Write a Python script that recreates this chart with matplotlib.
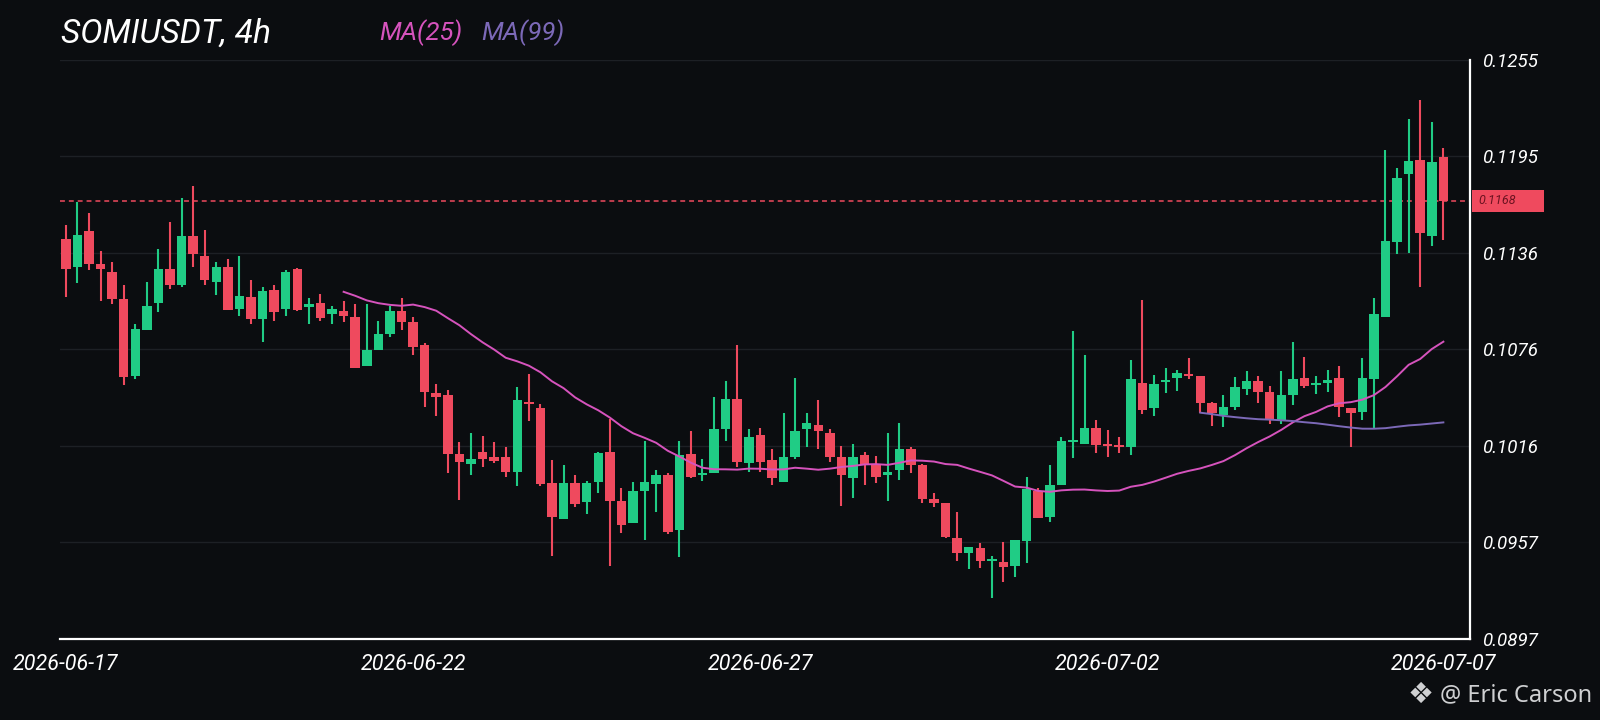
import matplotlib
matplotlib.use("Agg")
import matplotlib.pyplot as plt
import numpy as np
import pandas as pd
from matplotlib.transforms import blended_transform_factory
from matplotlib.patches import Rectangle

# ---------------- data (SOMIUSDT 4h candles) ----------------
opens = [0.11441, 0.11270, 0.11493, 0.11289, 0.11239, 0.11072, 0.10598, 0.10879, 0.11047, 0.11260,
         0.11159, 0.11460, 0.11338, 0.11179, 0.11272, 0.11009, 0.11083, 0.10949, 0.11128, 0.11009,
         0.11258, 0.11021, 0.11049, 0.10979, 0.11000, 0.10959, 0.10656, 0.10757, 0.10858, 0.11000,
         0.10928, 0.10788, 0.10489, 0.10479, 0.10114, 0.10054, 0.10126, 0.10095, 0.10095, 0.10004,
         0.10437, 0.10396, 0.09933, 0.09714, 0.09933, 0.09815, 0.09942, 0.10124, 0.09823, 0.09685,
         0.09885, 0.09926, 0.09986, 0.09644, 0.10112, 0.09986, 0.09998, 0.10267, 0.10454, 0.10056,
         0.10233, 0.10075, 0.09942, 0.10093, 0.10267, 0.10295, 0.10246, 0.10093, 0.09964, 0.10106,
         0.10050, 0.09984, 0.10015, 0.10145, 0.10046, 0.09834, 0.09809, 0.09593, 0.09504, 0.09531,
         0.09454, 0.09448, 0.09423, 0.09576, 0.09885, 0.09722, 0.09922, 0.10186, 0.10176, 0.10273,
         0.10176, 0.10170, 0.10159, 0.10555, 0.10400, 0.10561, 0.10582, 0.10607, 0.10594, 0.10427,
         0.10355, 0.10406, 0.10516, 0.10565, 0.10495, 0.10324, 0.10479, 0.10586, 0.10540, 0.10551,
         0.10586, 0.10396, 0.10375, 0.10578, 0.10963, 0.11427, 0.11843, 0.11932, 0.11464, 0.11952]
highs = [0.11530, 0.11670, 0.11602, 0.11371, 0.11299, 0.11159, 0.10918, 0.11179, 0.11381, 0.11550,
         0.11697, 0.11773, 0.11499, 0.11299, 0.11322, 0.11338, 0.11190, 0.11148, 0.11159, 0.11250,
         0.11262, 0.11077, 0.11101, 0.11031, 0.11060, 0.11039, 0.11039, 0.10938, 0.11031, 0.11080,
         0.10959, 0.10798, 0.10545, 0.10510, 0.10186, 0.10246, 0.10225, 0.10186, 0.10155, 0.10530,
         0.10607, 0.10423, 0.10075, 0.10044, 0.09984, 0.09949, 0.10126, 0.10332, 0.09904, 0.09942,
         0.10194, 0.10015, 0.09996, 0.10192, 0.10254, 0.10083, 0.10464, 0.10567, 0.10788, 0.10267,
         0.10275, 0.10145, 0.10367, 0.10586, 0.10367, 0.10450, 0.10267, 0.10165, 0.10174, 0.10124,
         0.10103, 0.10246, 0.10306, 0.10159, 0.10050, 0.09875, 0.09813, 0.09753, 0.09541, 0.09562,
         0.09483, 0.09572, 0.09582, 0.09974, 0.09902, 0.10046, 0.10217, 0.10876, 0.10726, 0.10324,
         0.10262, 0.10221, 0.10695, 0.11066, 0.10602, 0.10644, 0.10633, 0.10706, 0.10597, 0.10437,
         0.10479, 0.10588, 0.10627, 0.10596, 0.10536, 0.10627, 0.10808, 0.10715, 0.10596, 0.10633,
         0.10658, 0.10398, 0.10709, 0.11077, 0.11993, 0.11880, 0.12183, 0.12303, 0.12165, 0.12004]
lows = [0.11086, 0.11169, 0.11251, 0.11060, 0.11041, 0.10540, 0.10578, 0.10879, 0.10990, 0.11132,
        0.11145, 0.11272, 0.11159, 0.11099, 0.11004, 0.10969, 0.10918, 0.10806, 0.10938, 0.10969,
        0.10998, 0.10918, 0.10938, 0.10918, 0.10928, 0.10647, 0.10656, 0.10757, 0.10837, 0.10879,
        0.10726, 0.10406, 0.10347, 0.09995, 0.09831, 0.09984, 0.10033, 0.10056, 0.09974, 0.09914,
        0.10318, 0.09918, 0.09483, 0.09714, 0.09788, 0.09745, 0.09875, 0.09421, 0.09624, 0.09685,
        0.09582, 0.09755, 0.09619, 0.09477, 0.09964, 0.09945, 0.09998, 0.10194, 0.10035, 0.10004,
        0.10004, 0.09922, 0.09942, 0.10083, 0.10155, 0.10145, 0.10066, 0.09792, 0.09844, 0.09922,
        0.09933, 0.09823, 0.09953, 0.09995, 0.09809, 0.09784, 0.09593, 0.09452, 0.09405, 0.09407,
        0.09224, 0.09324, 0.09355, 0.09442, 0.09716, 0.09695, 0.09922, 0.10087, 0.10176, 0.10118,
        0.10097, 0.10118, 0.10108, 0.10361, 0.10349, 0.10489, 0.10503, 0.10579, 0.10369, 0.10287,
        0.10279, 0.10386, 0.10479, 0.10427, 0.10299, 0.10299, 0.10417, 0.10520, 0.10485, 0.10499,
        0.10344, 0.10159, 0.10324, 0.10273, 0.10963, 0.11350, 0.11359, 0.11148, 0.11402, 0.11437]
closes = [0.11260, 0.11470, 0.11289, 0.11260, 0.11072, 0.10590, 0.10887, 0.11029, 0.11260, 0.11159,
          0.11460, 0.11350, 0.11190, 0.11272, 0.11004, 0.11093, 0.10949, 0.11120, 0.10990, 0.11239,
          0.11004, 0.11039, 0.10953, 0.11009, 0.10969, 0.10647, 0.10757, 0.10858, 0.11000, 0.10928,
          0.10777, 0.10499, 0.10468, 0.10114, 0.10064, 0.10085, 0.10085, 0.10071, 0.10004, 0.10448,
          0.10423, 0.09928, 0.09724, 0.09933, 0.09805, 0.09933, 0.10118, 0.09825, 0.09675, 0.09883,
          0.09942, 0.09986, 0.09630, 0.10108, 0.09974, 0.09998, 0.10267, 0.10454, 0.10066, 0.10222,
          0.10066, 0.09967, 0.10093, 0.10256, 0.10306, 0.10256, 0.10093, 0.09984, 0.10093, 0.10044,
          0.09974, 0.10004, 0.10145, 0.10046, 0.09834, 0.09813, 0.09599, 0.09504, 0.09541, 0.09454,
          0.09463, 0.09413, 0.09582, 0.09896, 0.09716, 0.09922, 0.10196, 0.10200, 0.10276, 0.10170,
          0.10165, 0.10159, 0.10576, 0.10386, 0.10545, 0.10571, 0.10617, 0.10594, 0.10427, 0.10369,
          0.10406, 0.10526, 0.10565, 0.10499, 0.10324, 0.10479, 0.10576, 0.10536, 0.10551, 0.10571,
          0.10406, 0.10365, 0.10586, 0.10978, 0.11431, 0.11823, 0.11925, 0.11482, 0.11921, 0.11680]

date_labels = ["2026-06-17", "2026-06-22", "2026-06-27", "2026-07-02", "2026-07-07"]
date_candle_index = [0, 30, 60, 90, 119]
price_ticks = [0.0897, 0.0957, 0.1016, 0.1076, 0.1136, 0.1195, 0.1255]
y_range = (0.0897, 0.1255)

# ---------------- style ----------------
BG = "#0b0d10"
GREEN = "#20cc85"
RED = "#ef4a5e"
MA25_C = "#d653bd"
MA99_C = "#7c69b8"
GRID = "#1d2025"
FONT = "Roboto"

o = np.array(opens); h = np.array(highs); l = np.array(lows); c = np.array(closes)
x = np.arange(len(c))
colors = np.where(c >= o, GREEN, RED)

fig = plt.figure(figsize=(16, 7.2), dpi=100, facecolor=BG)
ax = fig.add_axes([0.0375, 0.1125, 0.88125, 0.80417])
ax.set_facecolor(BG)

# candles
ax.vlines(x, l, h, colors=colors, linewidth=1.5, zorder=2)
body_bottom = np.minimum(o, c)
body_h = np.maximum(np.abs(c - o), 0.00004)
ax.bar(x, body_h, bottom=body_bottom, width=0.82, color=colors, linewidth=0, zorder=3)

# moving averages
ma25 = pd.Series(c).rolling(25).mean()
ma99 = pd.Series(c).rolling(99).mean()
ax.plot(x, ma25, color=MA25_C, lw=1.4, zorder=4)
ax.plot(x, ma99, color=MA99_C, lw=1.4, zorder=4)

# last price line + tag
last = c[-1]
ax.axhline(last, color=RED, lw=1.1, ls=(0, (3.2, 2.6)), zorder=1)
btr = blended_transform_factory(ax.transAxes, ax.transData)
tag_h = (y_range[1] - y_range[0]) * 22 / 579
ax.add_patch(Rectangle((1.0014, last - tag_h / 2), 0.051, tag_h, transform=btr,
                       facecolor=RED, edgecolor="none", clip_on=False, zorder=5))
ax.text(1.006, last, f"{last:.4f}", transform=btr, ha="left", va="center",
        fontsize=9, color="#6a1220", family=FONT, style="italic", zorder=6)

# axes limits and ticks
ax.set_xlim(-0.5, 121.3)
ax.set_ylim(*y_range)
ax.set_yticks(np.linspace(y_range[0], y_range[1], len(price_ticks)))
ax.set_yticklabels([f"{v:.4f}" for v in price_ticks])
ax.yaxis.tick_right()
ax.set_xticks(date_candle_index)
ax.set_xticklabels(date_labels)
ax.tick_params(axis="y", length=0, pad=9, labelsize=13.5, labelcolor="white")
ax.tick_params(axis="x", length=0, pad=11, labelsize=15.5, labelcolor="white")
for lbl in ax.get_xticklabels() + ax.get_yticklabels():
    lbl.set_family(FONT)
    lbl.set_style("italic")

ax.grid(axis="y", color=GRID, lw=1.0, zorder=0)
ax.grid(axis="x", visible=False)
for s in ("left", "top"):
    ax.spines[s].set_visible(False)
for s in ("bottom", "right"):
    ax.spines[s].set_color("white")
    ax.spines[s].set_linewidth(1.6)

# header
fig.text(61 / 1600, 1 - 34 / 720, "SOMIUSDT, 4h", color="white", fontsize=24,
         family=FONT, style="italic", ha="left", va="center")
fig.text(379 / 1600, 1 - 33 / 720, "MA(25)", color=MA25_C, fontsize=18.5,
         family=FONT, style="italic", ha="left", va="center")
fig.text(481 / 1600, 1 - 33 / 720, "MA(99)", color=MA99_C, fontsize=18.5,
         family=FONT, style="italic", ha="left", va="center")

# watermark
fig.text(1421 / 1600, 1 - 695 / 720, "\u2756", color="#cfd0d2", fontsize=21,
         family="DejaVu Sans", ha="center", va="center")
fig.text(1440 / 1600, 1 - 695 / 720, "@ Eric Carson", color="#cfd0d2", fontsize=17,
         family="Noto Sans", ha="left", va="center")

fig.savefig("out.png", dpi=100, facecolor=BG)
